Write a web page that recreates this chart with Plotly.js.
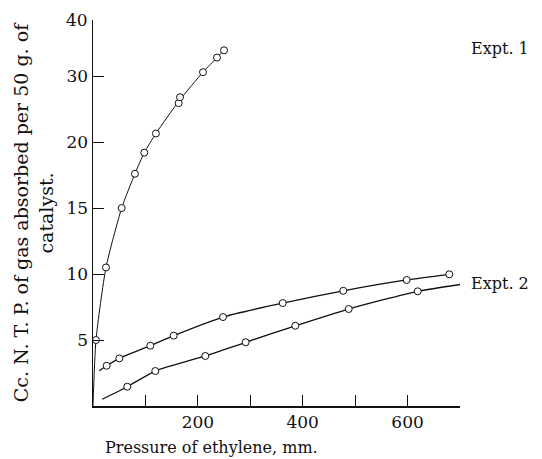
<!DOCTYPE html>
<html><head><meta charset="utf-8">
<script src="https://cdn.plot.ly/plotly-3.0.1.min.js"></script>
<style>html,body{margin:0;padding:0;background:#fff}</style>
</head><body><div id="chart" style="width:542px;height:459px"></div>
<script>
// Broken y scale: tick values and their equally spaced positions
const yTickVals = [0, 5, 10, 15, 20, 30, 40];
const yTickPos  = [0, 1, 2, 3, 4, 5, 5.85];

// Expt. 1 observed points
const e1X = [5.7, 24.8, 54.7, 80, 97.8, 120, 163.4, 166, 209.8, 236.5, 249.9];
const e1Y = [5.0, 10.5, 15.0, 17.6, 19.2, 21.3, 25.9, 26.8, 30.7, 33.3, 34.6];
// Expt. 1 drawn curve (starts at origin)
const e1LineX = [0, 5.7, 24.8, 54.7, 80, 97.8, 120, 164.7, 209.8, 236.5, 249.9];
const e1LineY = [0, 5.0, 10.5, 15.0, 17.6, 19.2, 21.3, 26.3, 30.7, 33.3, 34.6];

// Expt. 2 upper series
const e2aX = [26.1, 50.2, 109.3, 153.9, 248, 361.8, 477.4, 598.3, 679.6];
const e2aY = [3.05, 3.61, 4.57, 5.33, 6.74, 7.80, 8.73, 9.55, 9.98];
const e2aLineX = [12].concat(e2aX);
const e2aLineY = [2.67].concat(e2aY);

// Expt. 2 lower series
const e2bX = [65.4, 118.8, 214.2, 291.2, 385.9, 487.7, 619.3, 701.9];
const e2bY = [1.46, 2.65, 3.79, 4.83, 6.08, 7.35, 8.69, 9.22];
const e2bLineX = [17.7].concat(e2bX);
const e2bLineY = [0.51].concat(e2bY);

const xTickVals = [100, 200, 300, 400, 500, 600];
const xTickText = ['', '200', '', '400', '', '600'];

function toPos(v) {
  for (let i = 1; i < yTickVals.length; i++) {
    if (v <= yTickVals[i]) {
      const a = yTickVals[i - 1], b = yTickVals[i];
      return yTickPos[i - 1] + (v - a) / (b - a) * (yTickPos[i] - yTickPos[i - 1]);
    }
  }
  return yTickPos[yTickPos.length - 1];
}
const P = arr => arr.map(toPos);

const font = 'DejaVu Serif, Liberation Serif, serif';
const lineT = (x, y, w) => ({x, y: P(y), mode: 'lines', type: 'scatter',
  line: {color: '#111', width: w, shape: 'spline', smoothing: 0.6}, hoverinfo: 'skip', cliponaxis: false});
const ptT = (x, y) => ({x, y: P(y), mode: 'markers', type: 'scatter', cliponaxis: false,
  marker: {symbol: 'circle', size: 7, color: '#fff', line: {color: '#111', width: 1}}});

const data = [
  lineT(e1LineX, e1LineY, 1), ptT(e1X, e1Y),
  lineT(e2aLineX, e2aLineY, 1.3), ptT(e2aX, e2aY),
  lineT(e2bLineX, e2bLineY, 1.3), ptT(e2bX, e2bY)
];

const layout = {
  width: 542, height: 459,
  margin: {l: 93, r: 82, t: 20, b: 53},
  paper_bgcolor: '#fff', plot_bgcolor: '#fff',
  showlegend: false,
  font: {family: font, color: '#111', size: 17},
  xaxis: {
    range: [0, 700], showgrid: false, zeroline: false,
    showline: true, linecolor: '#111', linewidth: 1.5,
    ticks: 'inside', ticklen: 11, tickwidth: 1, tickcolor: '#111',
    tickvals: xTickVals, ticktext: xTickText,
    tickfont: {family: font, size: 17, color: '#111'}
  },
  yaxis: {
    range: [0, yTickPos[yTickPos.length - 1]], showgrid: false, zeroline: false,
    showline: true, linecolor: '#111', linewidth: 1.5,
    ticks: 'inside', ticklen: 11, tickwidth: 1, tickcolor: '#111',
    tickvals: yTickPos.slice(1, 6), ticktext: yTickVals.slice(1, 6).map(String),
    tickfont: {family: font, size: 17, color: '#111'},
    title: {text: 'Cc. N. T. P. of gas absorbed per 50 g. of<br>catalyst.',
      font: {family: font, size: 19, color: '#111'}, standoff: 8}
  },
  annotations: [
    {xref: 'paper', yref: 'y', x: 0, y: toPos(40), text: '40', showarrow: false,
      xanchor: 'right', yanchor: 'middle', xshift: -3, font: {family: font, size: 17, color: '#111'}},
    {xref: 'paper', yref: 'paper', x: 0.324, y: 0, yshift: -41, text: 'Pressure of ethylene, mm.',
      showarrow: false, xanchor: 'center', yanchor: 'middle', font: {family: font, size: 16, color: '#111'}},
    {xref: 'paper', yref: 'paper', x: 1.025, y: 0.927, text: 'Expt. 1', showarrow: false,
      xanchor: 'left', yanchor: 'middle', font: {family: font, size: 16, color: '#111'}},
    {xref: 'paper', yref: 'y', x: 1.025, y: toPos(9.3), text: 'Expt. 2', showarrow: false,
      xanchor: 'left', yanchor: 'middle', font: {family: font, size: 16, color: '#111'}}
  ]
};

Plotly.newPlot('chart', data, layout, {displayModeBar: false, staticPlot: true});
</script></body></html>
